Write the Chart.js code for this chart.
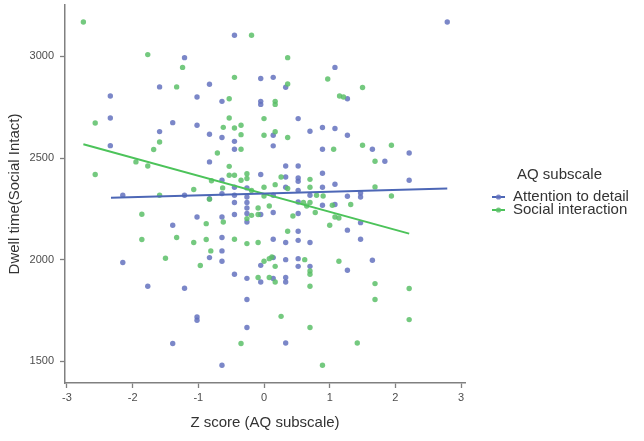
<!DOCTYPE html>
<html>
<head>
<meta charset="utf-8">
<script src="https://cdn.jsdelivr.net/npm/chart.js@4"></script>
<style>
  html, body { margin: 0; padding: 0; background: #fff; }
  #wrap { width: 644px; height: 441px; }
</style>
</head>
<body>
<div id="wrap"><canvas id="dwell-chart" width="644" height="441"></canvas></div>
<script>
// values
const attentionX = [2.79, -0.45, -1.21, 1.08, -1.59, -0.05, 0.14, 0.33, -0.83, -2.34,
    -1.02, 1.27, -0.64, -0.05, -0.05, -2.34, -1.39, -1.02, 0.52, 0.89,
    1.08, 0.70, -1.59, -0.83, -0.64, 1.27, -0.45, 0.14, -2.34, -0.45,
    0.14, 0.89, 1.65, 2.21, 1.84, -0.83, 0.33, 0.52, 0.89, -0.05,
    0.33, 0.52, 0.52, -0.64, 2.21, 1.08, -0.45, -0.26, 0.33, 0.89,
    0.52, -2.15, -1.21, -0.45, -0.64, 0.14, 0.70, 1.27, 1.47, 1.47,
    -0.83, -0.26, -0.45, -0.26, 0.52, 0.89, 1.08, -0.26, -0.26, -0.05,
    0.14, 0.52, -0.45, -0.26, -1.02, -0.64, -1.39, 1.47, 1.27, 0.52,
    -0.64, 0.14, 0.33, 0.52, 0.70, 1.47, -0.64, -0.83, -0.64, -2.15,
    -0.05, 0.14, 0.33, 0.52, 0.52, 0.70, 1.65, 1.27, -0.45, -0.26,
    -0.05, 0.14, 0.33, 0.33, -1.77, -1.21, -0.26, -1.02, -1.02, -0.26,
    -1.39, 0.33, -0.64];
const attentionY = [3169, 3104, 2994, 2946, 2850, 2891, 2897, 2848, 2863, 2805,
    2800, 2792, 2779, 2779, 2764, 2697, 2674, 2661, 2694, 2650,
    2645, 2632, 2630, 2617, 2601, 2612, 2582, 2612, 2561, 2543,
    2560, 2543, 2543, 2525, 2484, 2481, 2461, 2461, 2425, 2419,
    2407, 2402, 2386, 2391, 2391, 2371, 2356, 2353, 2356, 2356,
    2341, 2317, 2317, 2317, 2325, 2317, 2317, 2312, 2308, 2328,
    2300, 2308, 2281, 2281, 2284, 2268, 2271, 2254, 2227, 2222,
    2232, 2227, 2222, 2185, 2210, 2210, 2169, 2182, 2145, 2140,
    2109, 2100, 2084, 2095, 2084, 2100, 2043, 2010, 1992, 1986,
    1972, 2010, 2000, 2005, 1967, 1967, 1997, 1948, 1928, 1908,
    1890, 1907, 1912, 1890, 1869, 1859, 1804, 1718, 1702, 1666,
    1587, 1590, 1480];

const socialX = [-2.75, -1.77, -0.19, -1.24, 0.36, -1.33, -0.45, 0.36, 0.97, 1.50,
    -0.53, 0.17, 0.17, 1.15, 1.21, -2.57, -0.53, 0.00, -0.62, -0.45,
    -0.35, -0.35, 0.00, 0.17, 0.36, -1.59, -1.68, -0.35, 1.06, 1.50,
    1.94, -0.71, -1.95, -1.77, 1.69, -0.53, -2.57, -0.53, -0.45, -0.26,
    -0.35, -0.26, -0.80, 0.26, 0.70, 1.69, -1.07, -1.59, -0.63, -0.19,
    0.00, 0.17, 0.36, 0.70, 1.94, 0.00, 0.80, 0.90, -0.83, -0.09,
    0.08, 0.60, 0.70, 0.65, 0.78, 1.04, 1.32, -0.19, -0.09, 0.44,
    -0.26, -1.86, -0.88, -0.62, 1.08, 1.14, 1.00, 0.36, -1.86, -1.33,
    -1.07, -0.88, -0.45, -0.26, -0.09, -0.81, -1.50, -0.97, 0.00, 0.08,
    0.12, 0.17, 0.62, 1.14, 0.70, 0.70, -0.09, 0.08, 0.17, 0.70,
    1.69, 2.21, 1.69, 0.26, 2.21, 0.70, -0.35, 1.42, 0.89];
const socialY = [3169, 3009, 3104, 2946, 2994, 2850, 2897, 2864, 2889, 2847,
    2792, 2779, 2764, 2805, 2800, 2672, 2697, 2694, 2651, 2648,
    2661, 2615, 2612, 2629, 2601, 2579, 2542, 2543, 2543, 2563,
    2563, 2525, 2481, 2461, 2484, 2459, 2419, 2415, 2415, 2423,
    2391, 2399, 2388, 2407, 2395, 2358, 2345, 2317, 2353, 2340,
    2356, 2369, 2350, 2356, 2313, 2313, 2317, 2313, 2297, 2254,
    2264, 2281, 2281, 2264, 2232, 2268, 2271, 2218, 2222, 2215,
    2202, 2223, 2177, 2185, 2210, 2205, 2169, 2140, 2099, 2109,
    2084, 2099, 2100, 2079, 2084, 2043, 2007, 1971, 1992, 2005,
    2013, 1967, 2000, 1992, 1944, 1928, 1912, 1912, 1890, 1869,
    1882, 1858, 1804, 1721, 1705, 1666, 1587, 1590, 1480];

// fitted lines, end points as seen
const attentionFitX = [-2.33, 2.79];
const attentionFitY = [2305, 2350];
const socialFitX = [-2.75, 2.21];
const socialFitY = [2568, 2128];

const seriesNames = ['Attention to detail', 'Social interaction'];
const legendTitle = 'AQ subscale';
const xTicks = [-3, -2, -1, 0, 1, 2, 3];
const yTicks = [1500, 2000, 2500, 3000];

const blueDot = 'rgba(100, 114, 190, 0.85)';
const greenDot = 'rgba(92, 192, 104, 0.85)';
const blueLine = '#4d67b6';
const greenLine = '#4cc35a';
const fontFam = '"Liberation Sans", Arial, sans-serif';

const toPoints = (xs, ys) => xs.map((x, i) => ({ x: x, y: ys[i] }));

const sideLegend = {
    id: 'sideLegend',
    afterDraw(chart) {
        const ctx = chart.ctx;
        ctx.save();
        ctx.font = '15px ' + fontFam;
        ctx.fillStyle = '#333';
        ctx.textBaseline = 'middle';
        ctx.fillText(legendTitle, 517, 175);
        const cols = [blueLine, greenLine];
        seriesNames.forEach((name, i) => {
            const y = 197 + i * 13;
            ctx.strokeStyle = cols[i];
            ctx.lineWidth = 2;
            ctx.beginPath();
            ctx.moveTo(492, y);
            ctx.lineTo(505, y);
            ctx.stroke();
            ctx.fillStyle = i === 0 ? blueDot : greenDot;
            ctx.beginPath();
            ctx.arc(498.5, y, 2.6, 0, Math.PI * 2);
            ctx.fill();
            ctx.fillStyle = '#333';
            ctx.fillText(name, 513, y);
        });
        ctx.restore();
    }
};

const axisCommon = {
    border: { display: true, color: '#808080', width: 1.5 },
    grid: { display: true, drawOnChartArea: false, drawTicks: true, tickLength: 5, tickColor: '#808080', tickWidth: 1.3 },
};

const config = {
    type: 'scatter',
    data: {
        datasets: [
            { label: seriesNames[0] + ' fit', type: 'line', data: toPoints(attentionFitX, attentionFitY),
              borderColor: blueLine, borderWidth: 2, pointRadius: 0, fill: false, order: 0 },
            { label: seriesNames[1] + ' fit', type: 'line', data: toPoints(socialFitX, socialFitY),
              borderColor: greenLine, borderWidth: 2, pointRadius: 0, fill: false, order: 1 },
            { label: seriesNames[1], data: toPoints(socialX, socialY),
              backgroundColor: greenDot, borderWidth: 0, pointRadius: 2.7, order: 2 },
            { label: seriesNames[0], data: toPoints(attentionX, attentionY),
              backgroundColor: blueDot, borderWidth: 0, pointRadius: 2.7, order: 3 }
        ]
    },
    options: {
        responsive: false,
        animation: false,
        layout: { padding: { top: 5, right: 179, bottom: 0, left: 0 } },
        plugins: {
            legend: { display: false },
            tooltip: { enabled: false }
        },
        scales: {
            x: {
                type: 'linear',
                min: -3.03,
                max: 3.06,
                ...axisCommon,
                afterBuildTicks: scale => { scale.ticks = xTicks.map(v => ({ value: v })); },
                afterFit: scale => { scale.height = 58; scale.paddingLeft = 0; scale.paddingRight = 0; },
                ticks: { color: '#4d4d4d', padding: 3, font: { family: fontFam, size: 11 },
                         callback: v => String(v) },
                title: { display: true, text: 'Z score (AQ subscale)', color: '#333',
                         padding: { top: 0, bottom: 9 }, font: { family: fontFam, size: 15 } }
            },
            y: {
                type: 'linear',
                min: 1393,
                max: 3253,
                ...axisCommon,
                afterBuildTicks: scale => { scale.ticks = yTicks.map(v => ({ value: v })); },
                afterFit: scale => { scale.width = 65; scale.paddingTop = 0; scale.paddingBottom = 0; },
                ticks: { color: '#4d4d4d', padding: 6, font: { family: fontFam, size: 11 },
                         callback: v => String(v) },
                title: { display: true, text: 'Dwell time(Social Intact)', color: '#333',
                         padding: { top: 6, bottom: 0 }, font: { family: fontFam, size: 15 } }
            }
        }
    },
    plugins: [sideLegend]
};

const $$ = el => document.getElementById(el);
new Chart($$('dwell-chart'), config);
</script>
</body>
</html>
